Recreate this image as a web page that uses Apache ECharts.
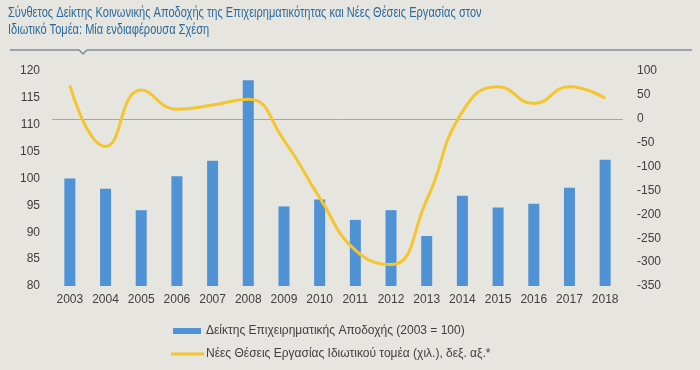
<!DOCTYPE html>
<html>
<head>
<meta charset="utf-8">
<script src="https://cdn.jsdelivr.net/npm/echarts@6/dist/echarts.min.js"></script>
<style>
html,body{margin:0;padding:0;background:#e6e5e0;}
#chart{width:700px;height:370px;}
</style>
</head>
<body>
<div id="chart"></div>
<script>
const categories = ['2003','2004','2005','2006','2007','2008','2009','2010','2011','2012','2013','2014','2015','2016','2017','2018'];
const indexValues = [100, 98.1, 94.1, 100.4, 103.3, 118.3, 94.8, 96.1, 92.3, 94.1, 89.3, 96.8, 94.6, 95.3, 98.3, 103.5];
const jobsValues = [70, -58, 60, 20, 29, 41, -45, -165, -275, -305, -170, 15, 67, 32, 67, 43];
const leftTicks = {min: 80, max: 120, interval: 5};
const rightTicks = {min: -350, max: 100, interval: 50};
const titleText = 'Σύνθετος Δείκτης Κοινωνικής Αποδοχής της Επιχειρηματικότητας και Νέες Θέσεις Εργασίας στον\nΙδιωτικό Τομέα: Μία ενδιαφέρουσα Σχέση';
const seriesNames = ['Δείκτης Επιχειρηματικής Αποδοχής (2003 = 100)', 'Νέες Θέσεις Εργασίας Ιδιωτικού τομέα (χιλ.), δεξ. αξ.*'];

const chart = echarts.init(document.getElementById('chart'));
const font = 'Liberation Sans, Arial, sans-serif';
chart.setOption({
  backgroundColor: '#e6e5e0',
  animation: false,
  graphic: [{
    type: 'text',
    x: 8, y: 5,
    scaleX: 0.79,
    style: {text: titleText, fontFamily: font, fontSize: 14, lineHeight: 17, fill: '#2d6a9c'}
  },{
    type: 'polyline',
    shape: {points: [[10,50],[79,50],[83,54],[87,50],[692,50]]},
    style: {stroke: '#7d8f99', lineWidth: 1.5, fill: null}
  }],
  legend: [{
    data: [seriesNames[0]],
    left: 168, top: 320, orient: 'vertical',
    itemWidth: 28, itemHeight: 6,
    icon: 'rect',
    textStyle: {fontFamily: font, fontSize: 12, color: '#404040'}
  },{
    data: [seriesNames[1]],
    left: 166, top: 343, orient: 'vertical',
    itemWidth: 33, itemHeight: 3,
    icon: 'rect',
    textStyle: {fontFamily: font, fontSize: 12, color: '#404040', padding: [0,0,0,-3]}
  }],
  grid: {left: 52, right: 77, top: 71, bottom: 84},
  xAxis: {
    type: 'category', data: categories,
    axisLine: {show: false}, axisTick: {show: false},
    axisLabel: {fontFamily: font, fontSize: 12, color: '#404040', margin: 8}
  },
  yAxis: [{
    type: 'value', min: leftTicks.min, max: leftTicks.max, interval: leftTicks.interval,
    splitLine: {show: false}, axisLine: {show: false}, axisTick: {show: false},
    axisLabel: {fontFamily: font, fontSize: 12, color: '#404040', margin: 12}
  },{
    type: 'value', min: rightTicks.min, max: rightTicks.max, interval: rightTicks.interval,
    splitLine: {show: false}, axisLine: {show: false}, axisTick: {show: false},
    axisLabel: {fontFamily: font, fontSize: 12, color: '#404040', margin: 14}
  }],
  series: [{
    name: seriesNames[0], type: 'bar', data: indexValues, yAxisIndex: 0,
    barWidth: 11, itemStyle: {color: '#4f93d6'}
  },{
    name: seriesNames[1], type: 'line', data: jobsValues, yAxisIndex: 1,
    smooth: 0.5, showSymbol: false, symbol: 'none',
    lineStyle: {color: '#f4c62e', width: 3}, itemStyle: {color: '#f4c62e'},
    z: 3,
    markLine: {
      silent: true, symbol: 'none', label: {show: false},
      lineStyle: {color: '#a7a7a3', width: 1, type: 'solid'},
      data: [{yAxis: 0}], z: 1
    }
  }]
});
</script>
</body>
</html>
